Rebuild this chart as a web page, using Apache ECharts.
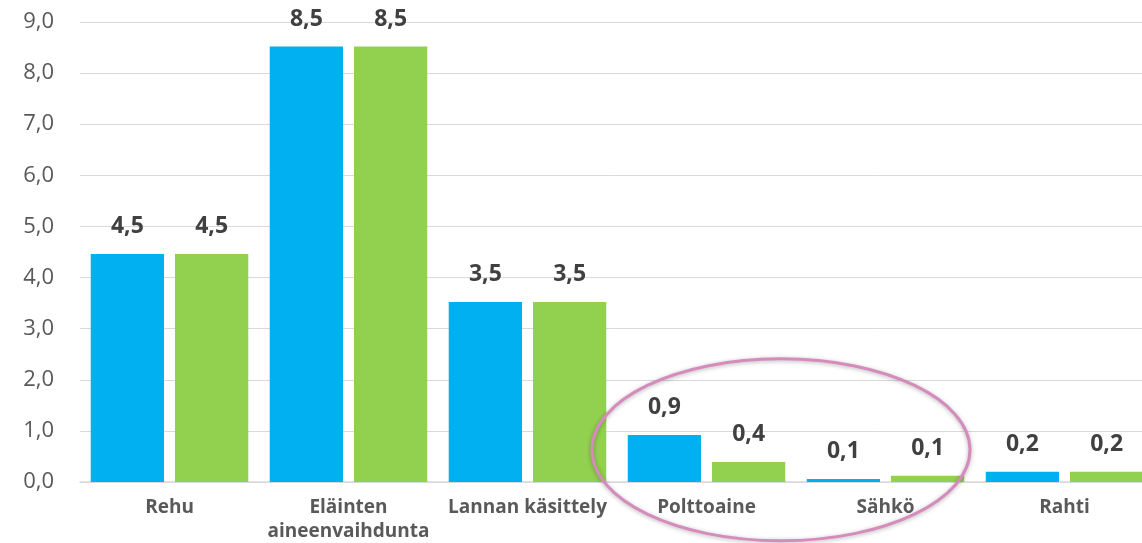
<!DOCTYPE html>
<html>
<head>
<meta charset="utf-8">
<script src="https://cdn.jsdelivr.net/npm/echarts@6/dist/echarts.min.js"></script>
<style>
  html, body { margin: 0; padding: 0; background: #fff; }
  #chart { width: 1142px; height: 543px; }
</style>
</head>
<body>
<div id="chart"></div>
<script>
// data
const categories = ['Rehu', 'Eläinten\naineenvaihdunta', 'Lannan käsittely', 'Polttoaine', 'Sähkö', 'Rahti'];
const seriesBlue = [4.46, 8.52, 3.52, 0.92, 0.06, 0.2];
const seriesGreen = [4.46, 8.52, 3.52, 0.39, 0.12, 0.2];
const yTicks = [0, 1, 2, 3, 4, 5, 6, 7, 8, 9];

const fi = v => v.toFixed(1).replace('.', ',');

const chart = echarts.init(document.getElementById('chart'));

const labelStyle = {
  show: true,
  position: 'top',
  distance: 16,
  fontFamily: 'Open Sans',
  fontWeight: 'bold',
  fontSize: 23,
  color: '#404040',
  formatter: p => fi(p.value)
};

chart.setOption({
  animation: false,
  grid: { left: 80, width: 1074, top: 22, height: 460, outerBoundsMode: 'none', containLabel: false },
  xAxis: {
    type: 'category',
    data: categories,
    axisTick: { show: false },
    axisLine: { lineStyle: { color: '#d9d9d9', width: 1.5 } },
    axisLabel: {
      interval: 0,
      margin: 14,
      fontFamily: 'Open Sans',
      fontWeight: 'bold',
      fontSize: 19,
      lineHeight: 24,
      color: '#595959'
    }
  },
  yAxis: {
    type: 'value',
    min: yTicks[0],
    max: yTicks[yTicks.length - 1],
    interval: 1,
    axisLine: { show: false },
    axisTick: { show: false },
    splitLine: { lineStyle: { color: '#d9d9d9', width: 1 } },
    axisLabel: {
      margin: 26,
      fontFamily: 'Open Sans',
      fontSize: 22,
      color: '#595959',
      formatter: v => fi(v)
    }
  },
  series: [
    {
      type: 'bar',
      data: seriesBlue,
      barGap: '15%',
      barCategoryGap: '12%',
      itemStyle: { color: '#00b0f0' },
      label: labelStyle
    },
    {
      type: 'bar',
      data: seriesGreen,
      itemStyle: { color: '#92d050' },
      label: labelStyle
    }
  ]
});

// highlight ellipse around Polttoaine and Sähkö
const pA = chart.convertToPixel({ xAxisIndex: 0 }, 'Polttoaine');
const pB = chart.convertToPixel({ xAxisIndex: 0 }, 'Sähkö');
const y0 = chart.convertToPixel({ yAxisIndex: 0 }, 0);
const y1 = chart.convertToPixel({ yAxisIndex: 0 }, 1);
const unit = y0 - y1;
const step = pB - pA;

chart.setOption({
  graphic: [{
    type: 'ellipse',
    shape: {
      cx: pA + step * 0.416,
      cy: y0 - unit * 0.63,
      rx: step * 1.056,
      ry: unit * 1.78
    },
    style: {
      fill: 'none',
      stroke: '#d68bbd',
      lineWidth: 3,
      shadowBlur: 4,
      shadowColor: 'rgba(0,0,0,0.3)',
      shadowOffsetY: 1
    },
    z: 100
  }]
});

window.addEventListener('resize', () => chart.resize());
</script>
</body>
</html>
